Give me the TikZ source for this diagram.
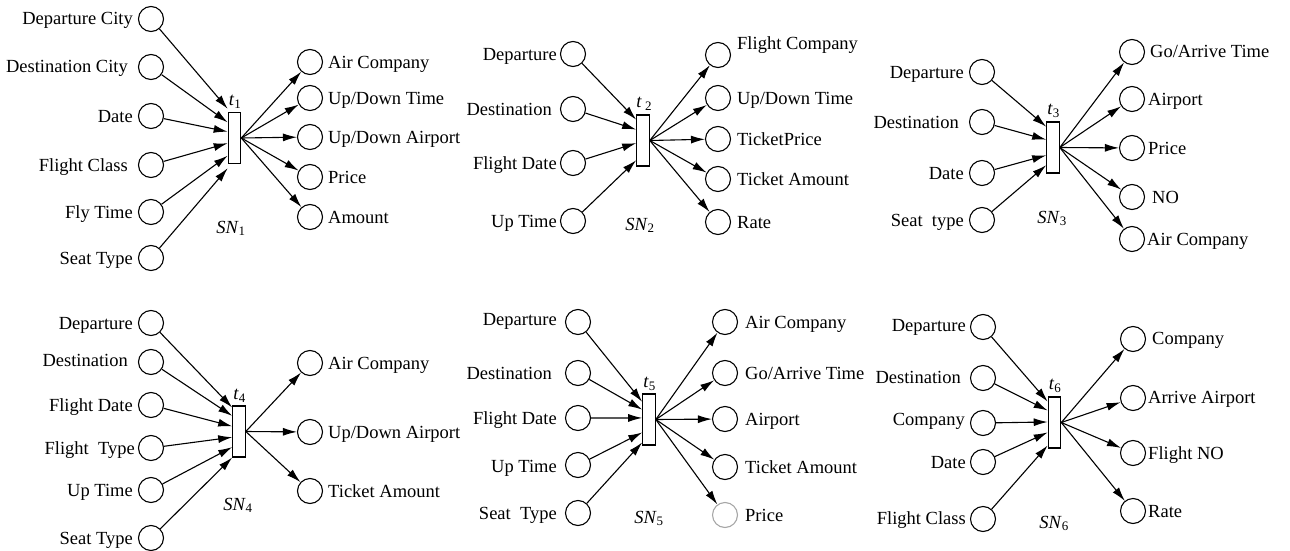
\documentclass[tikz,border=0pt]{standalone}
\usepackage{fontspec}
\setmainfont{Liberation Serif}
\usetikzlibrary{arrows.meta,calc}
\tikzset{
  pl/.style={circle,draw,line width=1.1pt,minimum size=25pt,inner sep=0pt},
  plgray/.style={pl,draw=black!35},
  tr/.style={rectangle,draw,line width=1.1pt,minimum width=12.5pt,minimum height=51pt,inner sep=0pt,fill=white},
  lbl/.style={font=\fontsize{18.5}{22}\selectfont,inner sep=0pt},
  arr/.style={-{Latex[length=14pt,width=8pt]},line width=1.1pt},
}
\newcommand\InP[6]{\node[pl] (#1) at (#2,#3) {}; \node[lbl,anchor=base east] (#1-l) at (#4,#5) {#6};}
\newcommand\OutP[6]{\node[pl] (#1) at (#2,#3) {}; \node[lbl,anchor=base west] (#1-l) at (#4,#5) {#6};}
\newcommand\Tgt[3]{\coordinate (#1) at ($(#2.north west)!#3!(#2.south west)$);}
\begin{document}
\begin{tikzpicture}[x=1pt,y=-1pt]
\useasboundingbox (0,0) rectangle (1290,551);

% ---------------- SN1 ----------------
\node[tr] (t1) at (234.5,138) {};
\node[lbl,anchor=base west] (t1-l) at ($(t1.north west)+(1,-6)$) {\textit{t}\textsubscript{1}};
\node[lbl,anchor=base] (sn1) at (231,233) {\textit{SN}\textsubscript{1}};
\InP{a1}{151}{19}{133}{25}{Departure City}
\InP{a2}{151}{67}{128}{73}{Destination City}
\InP{a3}{151}{116}{133}{122}{Date}
\InP{a4}{151}{165}{128}{171}{Flight Class}
\InP{a5}{151}{212}{133}{218}{Fly Time}
\InP{a6}{151}{258}{133}{264}{Seat Type}
\OutP{b1}{310}{62}{328}{68}{Air Company}
\OutP{b2}{310}{98}{328}{104}{Up/Down Time}
\OutP{b3}{310}{137}{328}{143}{Up/Down Airport}
\OutP{b4}{310}{177}{328}{183}{Price}
\OutP{b5}{310}{217}{328}{223}{Amount}
\Tgt{t1i1}{t1}{-0.06}\Tgt{t1i2}{t1}{0.2}\Tgt{t1i3}{t1}{0.38}
\Tgt{t1i4}{t1}{0.6}\Tgt{t1i5}{t1}{0.84}\Tgt{t1i6}{t1}{1.08}
\foreach \i in {1,...,6} {\draw[arr] (a\i) -- (t1i\i);}
\foreach \i in {1,...,5} {\draw[arr] (t1.east) -- (b\i);}

% ---------------- SN2 ----------------
\node[tr] (t2) at (643,140.5) {};
\node[lbl,anchor=base west] (t2-l) at ($(t2.north west)+(0,-7)$) {\textit{t}\,\textsubscript{2}};
\node[lbl,anchor=base] (sn2) at (640,230) {\textit{SN}\textsubscript{2}};
\InP{c1}{573}{54}{557}{60}{Departure}
\InP{c2}{573}{109}{552}{115}{Destination}
\InP{c3}{573}{163}{557}{169}{Flight Date}
\InP{c4}{573}{221}{557}{227}{Up Time}
\OutP{d1}{718}{55}{737}{49}{Flight Company}
\OutP{d2}{718}{98}{737}{104}{Up/Down Time}
\OutP{d3}{718}{139}{737}{145}{TicketPrice}
\OutP{d4}{718}{179}{737}{185}{Ticket Amount}
\OutP{d5}{718}{222}{737}{228}{Rate}
\Tgt{t2i1}{t2}{0.1}\Tgt{t2i2}{t2}{0.29}\Tgt{t2i3}{t2}{0.55}\Tgt{t2i4}{t2}{0.88}
\foreach \i in {1,...,4} {\draw[arr] (c\i) -- (t2i\i);}
\foreach \i in {1,...,5} {\draw[arr] (t2.east) -- (d\i);}

% ---------------- SN3 ----------------
\node[tr] (t3) at (1053,147.5) {};
\node[lbl,anchor=base west] (t3-l) at ($(t3.north west)+(1,-7)$) {\textit{t}\textsubscript{3}};
\node[lbl,anchor=base] (sn3) at (1052,223) {\textit{SN}\textsubscript{3}};
\InP{e1}{982}{72}{964}{78}{Departure}
\InP{e2}{982}{122}{959}{128}{Destination}
\InP{e3}{982}{173}{964}{179}{Date}
\InP{e4}{982}{220}{964}{226}{Seat~~type}
\OutP{f1}{1132}{52}{1150}{58}{Go/Arrive Time}
\OutP{f2}{1132}{99}{1148}{105}{Airport}
\OutP{f3}{1132}{148}{1148}{154}{Price}
\OutP{f4}{1132}{197}{1152}{203}{NO}
\OutP{f5}{1132}{239}{1147}{245}{Air Company}
\Tgt{t3i1}{t3}{0.1}\Tgt{t3i2}{t3}{0.35}\Tgt{t3i3}{t3}{0.65}\Tgt{t3i4}{t3}{0.84}
\foreach \i in {1,...,4} {\draw[arr] (e\i) -- (t3i\i);}
\foreach \i in {1,...,5} {\draw[arr] (t3.east) -- (f\i);}

% ---------------- SN4 ----------------
\node[tr] (t4) at (239,431.5) {};
\node[lbl,anchor=base west] (t4-l) at ($(t4.north west)+(1,-6)$) {\textit{t}\textsubscript{4}};
\node[lbl,anchor=base] (sn4) at (238,510) {\textit{SN}\textsubscript{4}};
\InP{g1}{151}{323}{133}{329}{Departure}
\InP{g2}{151}{362}{128}{366}{Destination}
\InP{g3}{151}{405}{133}{411}{Flight Date}
\InP{g4}{151}{448}{135}{454}{Flight~~Type}
\InP{g5}{151}{490}{133}{496}{Up Time}
\InP{g6}{151}{538}{133}{544}{Seat Type}
\OutP{h1}{310}{363}{328}{369}{Air Company}
\OutP{h2}{310}{432}{328}{438}{Up/Down Airport}
\OutP{h3}{310}{491}{328}{497}{Ticket Amount}
\Tgt{t4i1}{t4}{0.04}\Tgt{t4i2}{t4}{0.2}\Tgt{t4i3}{t4}{0.4}
\Tgt{t4i4}{t4}{0.61}\Tgt{t4i5}{t4}{0.8}\Tgt{t4i6}{t4}{1.0}
\foreach \i in {1,...,6} {\draw[arr] (g\i) -- (t4i\i);}
\foreach \i in {1,...,3} {\draw[arr] (t4.east) -- (h\i);}

% ---------------- SN5 ----------------
\node[tr] (t5) at (649,419.5) {};
\node[lbl,anchor=base west] (t5-l) at ($(t5.north west)+(1,-6)$) {\textit{t}\textsubscript{5}};
\node[lbl,anchor=base] (sn5) at (649,523) {\textit{SN}\textsubscript{5}};
\InP{i1}{578}{322}{557}{325}{Departure}
\InP{i2}{578}{373}{552}{379}{Destination}
\InP{i3}{578}{418}{557}{424}{Flight Date}
\InP{i4}{578}{465}{557}{472}{Up Time}
\InP{i5}{578}{513}{557}{519}{Seat~~Type}
\OutP{j1}{725}{322}{745}{328}{Air Company}
\OutP{j2}{725}{373}{745}{379}{Go/Arrive Time}
\OutP{j3}{725}{419}{745}{425}{Airport}
\OutP{j4}{725}{467}{745}{473}{Ticket Amount}
\node[plgray] (j5) at (725,515) {};
\node[lbl,anchor=base west] (j5-l) at (745,521) {Price};
\Tgt{t5i1}{t5}{0.16}\Tgt{t5i2}{t5}{0.31}\Tgt{t5i3}{t5}{0.47}
\Tgt{t5i4}{t5}{0.75}\Tgt{t5i5}{t5}{0.94}
\foreach \i in {1,...,5} {\draw[arr] (i\i) -- (t5i\i);}
\foreach \i in {1,...,5} {\draw[arr] (t5.east) -- (j\i);}

% ---------------- SN6 ----------------
\node[tr] (t6) at (1054.5,422.5) {};
\node[lbl,anchor=base west] (t6-l) at ($(t6.north west)+(1,-7)$) {\textit{t}\textsubscript{6}};
\node[lbl,anchor=base] (sn6) at (1054,528) {\textit{SN}\textsubscript{6}};
\InP{k1}{983}{327}{966}{331}{Departure}
\InP{k2}{983}{378}{961}{383}{Destination}
\InP{k3}{983}{423}{965}{425}{Company}
\InP{k4}{983}{462}{966}{468}{Date}
\InP{k5}{983}{519}{966}{524}{Flight Class}
\OutP{l1}{1133}{339}{1152}{344}{Company}
\OutP{l2}{1133}{398}{1148}{403}{Arrive Airport}
\OutP{l3}{1133}{453}{1148}{459}{Flight NO}
\OutP{l4}{1133}{511}{1148}{517}{Rate}
\Tgt{t6i1}{t6}{0.1}\Tgt{t6i2}{t6}{0.27}\Tgt{t6i3}{t6}{0.49}
\Tgt{t6i4}{t6}{0.69}\Tgt{t6i5}{t6}{0.94}
\foreach \i in {1,...,5} {\draw[arr] (k\i) -- (t6i\i);}
\foreach \i in {1,...,4} {\draw[arr] (t6.east) -- (l\i);}
\end{tikzpicture}
\end{document}
